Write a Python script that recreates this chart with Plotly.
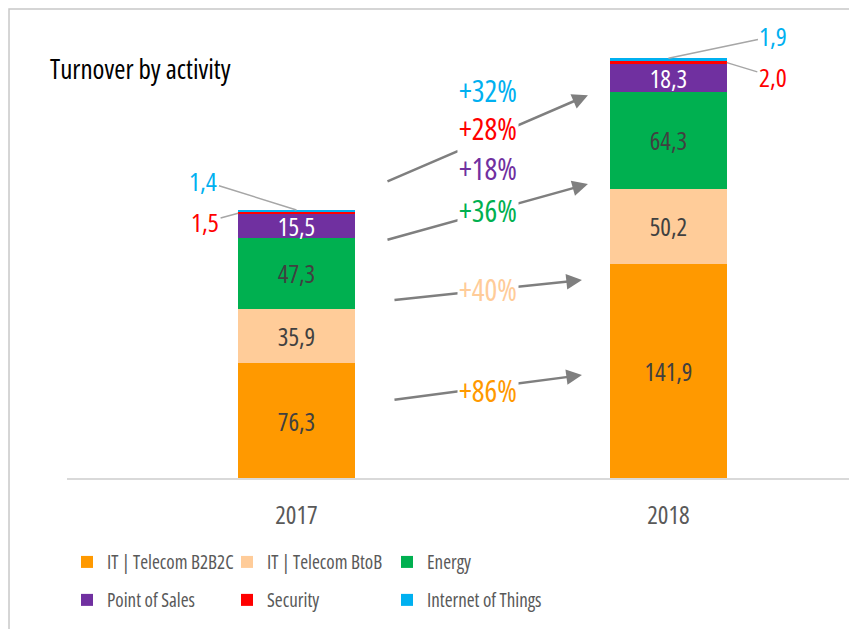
import plotly.graph_objects as go

FONT = "Open Sans"

years = ["2017", "2018"]
series_names = ["IT | Telecom B2B2C", "IT | Telecom BtoB", "Energy",
                "Point of Sales", "Security", "Internet of Things"]
b2b2c = [76.3, 141.9]
btob = [35.9, 50.2]
energy = [47.3, 64.3]
pos = [15.5, 18.3]
security = [1.5, 2.0]
iot = [1.4, 1.9]
growth_labels = ["+32%", "+28%", "+18%", "+36%", "+40%", "+86%"]

colors = ["#FF9900", "#FFCC99", "#00B050", "#7030A0", "#FF0000", "#00B0F0"]
label_colors = ["#404040", "#404040", "#404040", "#FFFFFF", None, None]
values = [b2b2c, btob, energy, pos, security, iot]


def cond(s):
    # narrow face of the variable font, close to the original condensed typeface
    return f"<span style='font-stretch:extra-condensed'>{s}</span>"


fig = go.Figure()
for i, (name, vals) in enumerate(zip(series_names, values)):
    small = label_colors[i] is None
    fig.add_trace(go.Bar(
        x=years, y=vals, name=cond(name),
        marker_color=colors[i], marker_line_width=0,
        width=0.3145,
        texttemplate="" if small else cond("%{y:.1f}"),
        textposition="none" if small else "inside",
        insidetextanchor="middle", textangle=0, constraintext="none",
        textfont=dict(family=FONT, size=25, color=label_colors[i] or "#404040"),
        legend="legend" if i < 3 else "legend2",
        hoverinfo="skip",
    ))

tot17 = sum(v[0] for v in values)
tot18 = sum(v[1] for v in values)

annotations = [
    dict(text=cond("Turnover by activity"), xref="paper", yref="paper", x=-0.024, y=0.905,
         xanchor="left", yanchor="middle", showarrow=False,
         font=dict(family=FONT, size=27, color="#000000")),
]

# leader lines for the thin segments
lead = "#A6A6A6"
small_labels = [
    (0, tot17, "1,4", -93, -29, colors[5]),
    (-0.157, tot17 - iot[0] - security[0] / 2, "1,5", -33, 9, colors[4]),
    (1, tot18, "1,9", 105, -22, colors[5]),
    (1.157, tot18 - iot[1] - security[1] / 2, "2,0", 46, 14, colors[4]),
]
for x, y, txt, ax, ay, c in small_labels:
    annotations.append(dict(x=x, y=y, text=cond(txt), ax=ax, ay=ay, showarrow=True, arrowhead=0,
                            arrowcolor=lead, arrowwidth=1.5,
                            font=dict(family=FONT, size=26, color=c)))

# growth arrows (tail -> head, axis units)
arrows = [
    (0.2406, 196.4, 0.7836, 254.1),
    (0.2406, 157.9, 0.7836, 195.1),
    (0.2594, 118.1, 0.7675, 131.4),
    (0.2594, 51.8, 0.7675, 68.3),
]
for x0, y0, x1, y1 in arrows:
    annotations.append(dict(x=x1, y=y1, ax=x0, ay=y0, axref="x", ayref="y", text="",
                            showarrow=True, arrowhead=2, arrowsize=1.25, arrowwidth=2.5,
                            arrowcolor="#7F7F7F"))

growth_y = [257.5, 232.3, 205.7, 177.8, 124.8, 58.4]
growth_colors = [colors[5], colors[4], colors[3], colors[2], colors[1], colors[0]]
for txt, gy, gc in zip(growth_labels, growth_y, growth_colors):
    annotations.append(dict(x=0.5148, y=gy, text=cond(txt), showarrow=False, bgcolor="white",
                            font=dict(family=FONT, size=30, color=gc)))

legend_style = dict(orientation="h", x=0.0, xanchor="left", yanchor="middle",
                    entrywidth=115, entrywidthmode="pixels", bgcolor="rgba(0,0,0,0)",
                    traceorder="normal",
                    font=dict(family=FONT, size=19, color="#595959"))

fig.update_layout(
    width=849, height=621,
    margin=dict(l=59, r=0, t=18, b=151),
    paper_bgcolor="white", plot_bgcolor="white",
    barmode="stack", separators=", ",
    showlegend=True,
    font=dict(family=FONT, color="#595959"),
    xaxis=dict(type="category", range=[-0.617, 1.507], showgrid=False, ticks="",
               tickvals=years, ticktext=[cond(y) for y in years], ticklabelstandoff=14,
               showline=True, linecolor="#D9D9D9", linewidth=1.5,
               tickfont=dict(family=FONT, size=25, color="#595959")),
    yaxis=dict(range=[0, 300], visible=False),
    legend=dict(legend_style, y=-0.186),
    legend2=dict(legend_style, y=-0.27),
    annotations=annotations,
    shapes=[dict(type="rect", xref="paper", yref="paper", x0=-0.0734, x1=1.05,
                 y0=-0.4, y1=1.0376, line=dict(color="#C8C8C8", width=1.5), layer="below")],
)

fig.write_html("out.html")
